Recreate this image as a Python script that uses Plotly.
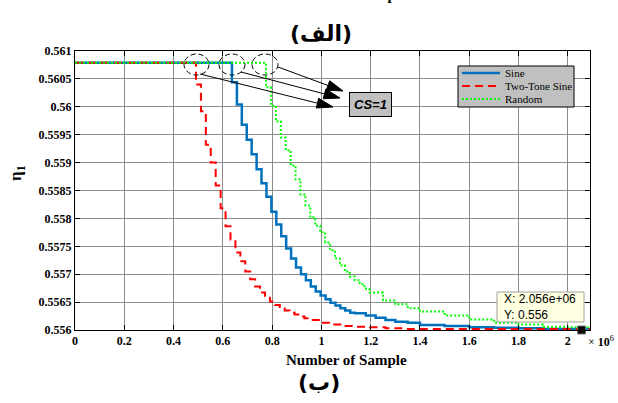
import math
import plotly.graph_objects as go

# ---- data (x in units of 10^6 samples) ----
sine_x = [0, 0.637, 0.657, 0.677, 0.697, 0.717, 0.737, 0.757, 0.777, 0.797, 0.817,
          0.837, 0.857, 0.877, 0.897, 0.917, 0.937, 0.957, 0.977, 0.997, 1.017,
          1.037, 1.057, 1.077, 1.097, 1.117, 1.137, 1.18, 1.22, 1.26, 1.30, 1.35,
          1.40, 1.50, 1.60, 1.70, 1.80, 1.90, 2.00, 2.09]
sine_y = [0.56079, 0.56044, 0.56004, 0.55968, 0.55941, 0.55915, 0.55888, 0.55863,
          0.55839, 0.55812, 0.55789, 0.55768, 0.55746, 0.55728, 0.55712, 0.55700,
          0.55689, 0.55678, 0.55669, 0.55662, 0.55655, 0.55649, 0.55644, 0.55639,
          0.55635, 0.55631, 0.55630, 0.55626, 0.55622, 0.55618, 0.55615, 0.55613,
          0.55609, 0.55607, 0.55605, 0.55604, 0.55603, 0.55602, 0.55602, 0.55602]

two_tone_x = [0, 0.491, 0.511, 0.531, 0.551, 0.571, 0.591, 0.611, 0.631, 0.651,
              0.671, 0.691, 0.711, 0.731, 0.751, 0.771, 0.791, 0.811, 0.831, 0.851,
              0.871, 0.891, 0.911, 0.931, 0.951, 0.994, 1.04, 1.087, 1.14, 1.197,
              1.26, 1.331, 1.45, 2.09]
two_tone_y = [0.56079, 0.56040, 0.55992, 0.55932, 0.55900, 0.55859, 0.55818, 0.55786,
              0.55762, 0.55739, 0.55723, 0.55705, 0.55691, 0.55678, 0.55667, 0.55658,
              0.55651, 0.55645, 0.55639, 0.55635, 0.55631, 0.55628, 0.55624, 0.55621,
              0.55618, 0.55613, 0.55610, 0.55607, 0.55606, 0.55605, 0.55603, 0.55602,
              0.55602, 0.55602]

random_x = [0, 0.775, 0.795, 0.815, 0.835, 0.855, 0.875, 0.895, 0.915, 0.935, 0.955,
            0.975, 0.995, 1.015, 1.035, 1.055, 1.075, 1.095, 1.115, 1.135, 1.155,
            1.175, 1.195, 1.25, 1.30, 1.35, 1.40, 1.5, 1.6, 1.7, 1.8, 1.9, 2.0, 2.09]
random_y = [0.56079, 0.56035, 0.56002, 0.55974, 0.55945, 0.55922, 0.55895, 0.55870,
            0.55843, 0.55823, 0.55802, 0.55787, 0.55775, 0.55757, 0.55743, 0.55728,
            0.55716, 0.55705, 0.55696, 0.55689, 0.55682, 0.55674, 0.55667, 0.55653,
            0.55646, 0.55639, 0.55633, 0.55626, 0.55619, 0.55613, 0.55610, 0.55606,
            0.55605, 0.55604]

series_names = ["Sine", "Two-Tone Sine", "Random"]

x_ticks = [0, 0.2, 0.4, 0.6, 0.8, 1, 1.2, 1.4, 1.6, 1.8, 2]
x_tick_text = ["0", "0.2", "0.4", "0.6", "0.8", "1", "1.2", "1.4", "1.6", "1.8", "2"]
y_ticks = [0.556, 0.5565, 0.557, 0.5575, 0.558, 0.5585, 0.559, 0.5595, 0.56, 0.5605, 0.561]
y_tick_text = ["0.556", "0.5565", "0.557", "0.5575", "0.558", "0.5585", "0.559",
               "0.5595", "0.56", "0.5605", "0.561"]

tip_x = [2.056]
tip_y = [0.556]

# ---- layout helpers (pixel -> paper) ----
L, R, T, B = 75, 590, 51, 330
W, H = 618, 403


def PX(x):
    return (x - L) / (R - L)


def PY(y):
    return (B - y) / (B - T)


serif = "Liberation Serif"
sans = "Liberation Sans"
styles = [dict(color="#0072BD", width=2.5, dash="solid"),
          dict(color="#FF0000", width=2, dash="8px,5px"),
          dict(color="#00FF00", width=2, dash="2px,2px")]

fig = go.Figure()
for name, xs, ys, st in zip(series_names, [sine_x, two_tone_x, random_x],
                            [sine_y, two_tone_y, random_y], styles):
    fig.add_trace(go.Scatter(x=xs, y=ys, mode="lines", name=name, showlegend=False,
                             line=dict(shape="hv", **st)))
fig.add_trace(go.Scatter(x=tip_x, y=tip_y, mode="markers", showlegend=False, cliponaxis=False,
                         marker=dict(symbol="square", size=8, color="black",
                                     line=dict(color="#777777", width=1))))

axis_common = dict(showline=True, linecolor="black", linewidth=1, mirror="ticks",
                   ticks="inside", ticklen=5, tickcolor="black", showgrid=True,
                   gridcolor="#8c8c8c", gridwidth=1, zeroline=False,
                   tickfont=dict(family=serif, size=12, color="black", weight="bold"))

fig.update_xaxes(range=[0, 2.09], tickvals=x_ticks, ticktext=x_tick_text, **axis_common)
fig.update_yaxes(range=[0.556, 0.561], tickvals=y_ticks, ticktext=y_tick_text, **axis_common)


def txt(text, x, y, xanchor="center", **kw):
    d = dict(text=text, x=PX(x), y=PY(y), xref="paper", yref="paper", showarrow=False,
             xanchor=xanchor, yanchor="middle")
    d.update(kw)
    return d


annotations = [
    txt("(الف)", 321, 33, font=dict(family="DejaVu Sans", size=22, color="black", weight="bold")),
    txt("Number of Sample", 346, -5, font=dict(family=serif, size=15, color="black", weight="bold")),
    txt("Number of Sample", 346, 360, font=dict(family=serif, size=15, color="black", weight="bold")),
    txt("(ب)", 319, 382, font=dict(family="DejaVu Sans", size=22, color="black", weight="bold")),
    txt("η<sub>1</sub>", 17, 173, textangle=-90,
        font=dict(family=serif, size=17, color="black", weight="bold")),
    txt("× <b>10</b><sup>6</sup>", 586, 341, xanchor="left",
        font=dict(family=serif, size=12, color="black")),
    txt("<b><i>CS=1</i></b>", 370, 104, bgcolor="#c0c0c0", bordercolor="black", borderwidth=1,
        borderpad=4, font=dict(family=sans, size=13, color="black")),
    txt("X: 2.056e+06<br>Y: 0.556", 502, 307, xanchor="left", align="left",
        font=dict(family=sans, size=12, color="black")),
]

shapes = []
# data-tip box
shapes.append(dict(type="rect", xref="paper", yref="paper", x0=PX(497), x1=PX(584),
                   y0=PY(322), y1=PY(292), fillcolor="#ffffe1",
                   line=dict(color="#a0a0a0", width=1), layer="above"))

# dashed circles
for x0, x1 in [(184, 209), (219, 245), (252, 278)]:
    shapes.append(dict(type="circle", xref="paper", yref="paper",
                       x0=PX(x0), x1=PX(x1), y0=PY(75), y1=PY(54),
                       line=dict(color="black", width=1, dash="5px,3px")))

# arrows from circles to CS=1 box: (head_x, head_y, tail_x, tail_y) in pixels
arrows = [(333, 107, 200, 74), (340, 98, 241, 72), (343, 91, 278, 67)]
head_len, head_half = 16, 5
for hx, hy, tx, ty in arrows:
    dx, dy = hx - tx, hy - ty
    n = math.hypot(dx, dy)
    ux, uy = dx / n, dy / n
    bx, by = hx - head_len * ux, hy - head_len * uy
    shapes.append(dict(type="line", xref="paper", yref="paper",
                       x0=PX(tx), y0=PY(ty), x1=PX(bx), y1=PY(by),
                       line=dict(color="black", width=1)))
    p1 = (bx - head_half * uy, by + head_half * ux)
    p2 = (bx + head_half * uy, by - head_half * ux)
    path = "M {} {} L {} {} L {} {} Z".format(PX(hx), PY(hy), PX(p1[0]), PY(p1[1]),
                                              PX(p2[0]), PY(p2[1]))
    shapes.append(dict(type="path", xref="paper", yref="paper", path=path,
                       fillcolor="black", line=dict(color="black", width=1)))

# legend box (drawn by hand to match the compact MATLAB legend)
shapes.append(dict(type="rect", xref="paper", yref="paper", x0=PX(458), x1=PX(574),
                   y0=PY(107), y1=PY(66), fillcolor="#c0c0c0",
                   line=dict(color="black", width=1), layer="above"))
for i, (name, st) in enumerate(zip(series_names, styles)):
    yy = 73 + 13 * i
    shapes.append(dict(type="line", xref="paper", yref="paper", x0=PX(462), x1=PX(500),
                       y0=PY(yy), y1=PY(yy), line=st, layer="above"))
    annotations.append(txt(name, 503, yy, xanchor="left",
                           font=dict(family=serif, size=11, color="black")))

fig.update_layout(
    width=W, height=H,
    margin=dict(l=L, r=W - R, t=T, b=H - B),
    paper_bgcolor="white", plot_bgcolor="white",
    showlegend=False,
    annotations=annotations,
    shapes=shapes,
)

fig.write_html("out.html")
